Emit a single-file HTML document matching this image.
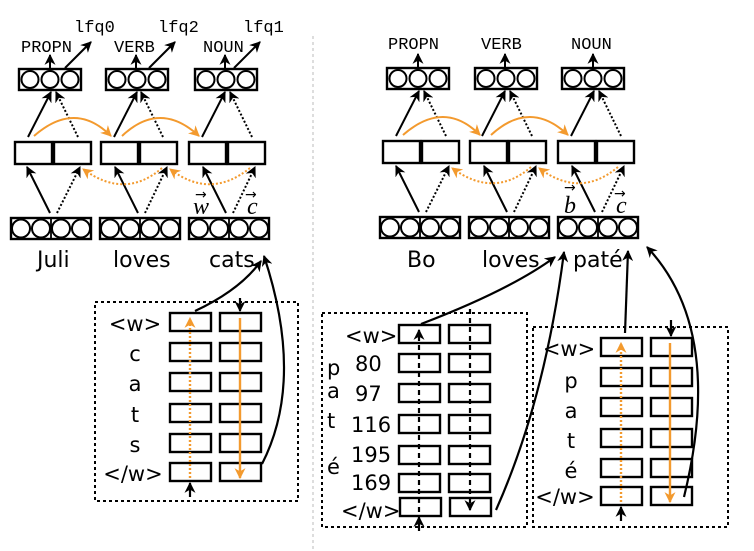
<!DOCTYPE html>
<html><head><meta charset="utf-8"><style>
body{margin:0;background:#fff}
svg{display:block}
</style></head><body>
<svg width="754" height="551" viewBox="0 0 754 551" xmlns="http://www.w3.org/2000/svg">
<defs>
<marker id="a" viewBox="0 0 10 10" refX="9" refY="5" markerUnits="userSpaceOnUse" markerWidth="11" markerHeight="11" orient="auto"><path d="M0,0 L10,5 L0,10 L3,5z" fill="#000"/></marker>
<marker id="o" viewBox="0 0 10 10" refX="9" refY="5" markerUnits="userSpaceOnUse" markerWidth="11" markerHeight="11" orient="auto"><path d="M0,0 L10,5 L0,10 L3,5z" fill="#f39a2e"/></marker>
<g id="top"><rect x="0" y="0" width="62" height="21" fill="#fff" stroke="#000" stroke-width="2.4"/><circle cx="11" cy="10.5" r="8.5" fill="none" stroke="#000" stroke-width="2"/><circle cx="31" cy="10.5" r="8.5" fill="none" stroke="#000" stroke-width="2"/><circle cx="51" cy="10.5" r="8.5" fill="none" stroke="#000" stroke-width="2"/></g>
<g id="bot"><rect x="0" y="0" width="80" height="21" fill="#fff" stroke="#000" stroke-width="2.4"/><line x1="40" y1="0" x2="40" y2="21" stroke="#000" stroke-width="1.8"/><circle cx="10" cy="10.5" r="9" fill="none" stroke="#000" stroke-width="2"/><circle cx="30" cy="10.5" r="9" fill="none" stroke="#000" stroke-width="2"/><circle cx="50" cy="10.5" r="9" fill="none" stroke="#000" stroke-width="2"/><circle cx="70" cy="10.5" r="9" fill="none" stroke="#000" stroke-width="2"/></g>
<g id="mid"><rect x="0" y="0" width="37" height="22" fill="#fff" stroke="#000" stroke-width="2.4"/><rect x="39" y="0" width="37" height="22" fill="#fff" stroke="#000" stroke-width="2.4"/></g>
<g id="cb"><rect x="0" y="0" width="41" height="18" fill="#fff" stroke="#000" stroke-width="2.4"/></g>
</defs>

<line x1="313" y1="36" x2="313" y2="551" stroke="#bbb" stroke-width="1" stroke-dasharray="3,3"/>

<!-- LEFT network -->
<use href="#top" x="19" y="69"/><use href="#top" x="106" y="69"/><use href="#top" x="195" y="69"/>
<use href="#mid" x="15" y="142"/><use href="#mid" x="101" y="142"/><use href="#mid" x="189" y="142"/>
<use href="#bot" x="11" y="218"/><use href="#bot" x="100" y="218"/><use href="#bot" x="189" y="218"/>
<g stroke="#000" stroke-width="2" fill="none">
<line x1="50" y1="69" x2="50" y2="55" marker-end="url(#a)"/><line x1="65" y1="68" x2="91" y2="42" marker-end="url(#a)"/>
<line x1="136" y1="69" x2="136" y2="55" marker-end="url(#a)"/><line x1="149" y1="68" x2="175" y2="42" marker-end="url(#a)"/>
<line x1="225" y1="69" x2="225" y2="55" marker-end="url(#a)"/><line x1="234" y1="68" x2="260" y2="42" marker-end="url(#a)"/>
</g>
<g font-family="Liberation Mono, monospace" font-size="17"><text x="21" y="52">PROPN</text><text x="74" y="32">lfq0</text><text x="114" y="52">VERB</text><text x="158" y="32">lfq2</text><text x="203" y="52">NOUN</text><text x="243" y="32">lfq1</text></g>

<g stroke="#000" stroke-width="2" fill="none">
<line x1="28" y1="137" x2="51" y2="92" marker-end="url(#a)"/><line x1="78" y1="137" x2="56" y2="92" stroke-dasharray="2,2" marker-end="url(#a)"/>
<line x1="114" y1="137" x2="137" y2="92" marker-end="url(#a)"/><line x1="163" y1="137" x2="141" y2="92" stroke-dasharray="2,2" marker-end="url(#a)"/>
<line x1="202" y1="137" x2="225" y2="92" marker-end="url(#a)"/><line x1="252" y1="137" x2="230" y2="92" stroke-dasharray="2,2" marker-end="url(#a)"/>
<line x1="50" y1="213" x2="27" y2="167" marker-end="url(#a)"/><line x1="57" y1="213" x2="80" y2="167" stroke-dasharray="2,2" marker-end="url(#a)"/>
<line x1="138" y1="213" x2="115" y2="167" marker-end="url(#a)"/><line x1="145" y1="213" x2="167" y2="167" stroke-dasharray="2,2" marker-end="url(#a)"/>
<line x1="226" y1="213" x2="203" y2="167" marker-end="url(#a)"/><line x1="233" y1="213" x2="255" y2="167" stroke-dasharray="2,2" marker-end="url(#a)"/>
</g>
<g stroke="#f39a2e" stroke-width="2" fill="none">
<path d="M34,136 Q75,100 111,136" marker-end="url(#o)"/><path d="M122,136 Q160,100 199,136" marker-end="url(#o)"/>
<path d="M162,168 Q125,200 83,169" stroke-dasharray="2,2" marker-end="url(#o)"/><path d="M250,168 Q210,200 170,169" stroke-dasharray="2,2" marker-end="url(#o)"/>
</g>
<text x="193" y="214" font-family="Liberation Serif,serif" font-style="italic" font-size="24">w</text><text x="195" y="199" font-family="DejaVu Sans" font-size="14">→</text>
<text x="247" y="214" font-family="Liberation Serif,serif" font-style="italic" font-size="24">c</text><text x="245" y="199" font-family="DejaVu Sans" font-size="14">→</text>
<g font-family="DejaVu Sans, Liberation Sans, sans-serif" font-size="22"><text x="37" y="267">Juli</text><text x="113" y="267">loves</text><text x="209" y="267">cats</text></g>

<!-- LEFT char box -->
<rect x="95" y="302" width="203" height="199" fill="none" stroke="#000" stroke-width="2" stroke-dasharray="3,3"/>
<use href="#cb" x="170" y="313"/><use href="#cb" x="220" y="313"/>
<use href="#cb" x="170" y="343"/><use href="#cb" x="220" y="343"/>
<use href="#cb" x="170" y="373"/><use href="#cb" x="220" y="373"/>
<use href="#cb" x="170" y="404"/><use href="#cb" x="220" y="404"/>
<use href="#cb" x="170" y="434"/><use href="#cb" x="220" y="434"/>
<use href="#cb" x="170" y="463"/><use href="#cb" x="220" y="463"/>
<g font-family="DejaVu Sans, Liberation Sans, sans-serif" font-size="21" text-anchor="middle"><text x="135" y="331">&lt;w&gt;</text><text x="135" y="361">c</text><text x="135" y="391">a</text><text x="135" y="422">t</text><text x="135" y="452">s</text><text x="133" y="481">&lt;/w&gt;</text></g>
<line x1="190" y1="478" x2="190" y2="318" stroke="#f39a2e" stroke-width="2.4" stroke-dasharray="2,2" marker-end="url(#o)"/>
<line x1="240" y1="318" x2="240" y2="478" stroke="#f39a2e" stroke-width="2.4" marker-end="url(#o)"/>
<g stroke="#000" stroke-width="2.2" fill="none">
<line x1="190" y1="497" x2="190" y2="483" marker-end="url(#a)"/>
<line x1="240" y1="298" x2="240" y2="311" marker-end="url(#a)"/>
<path d="M195,311 Q240,290 261,261" marker-end="url(#a)"/>
<path d="M262,464 Q305,380 264,256" marker-end="url(#a)"/>
</g>

<!-- RIGHT network -->
<use href="#top" x="387" y="68"/><use href="#top" x="475" y="68"/><use href="#top" x="562" y="68"/>
<use href="#mid" x="383" y="141"/><use href="#mid" x="470" y="141"/><use href="#mid" x="558" y="141"/>
<use href="#bot" x="380" y="217"/><use href="#bot" x="469" y="217"/><use href="#bot" x="558" y="217"/>
<g stroke="#000" stroke-width="2" fill="none">
<line x1="418" y1="68" x2="418" y2="54" marker-end="url(#a)"/>
<line x1="505" y1="68" x2="505" y2="54" marker-end="url(#a)"/>
<line x1="593" y1="68" x2="593" y2="54" marker-end="url(#a)"/>
</g>
<g font-family="Liberation Mono, monospace" font-size="17"><text x="388" y="49">PROPN</text><text x="481" y="49">VERB</text><text x="571" y="49">NOUN</text></g>
<g stroke="#000" stroke-width="2" fill="none">
<line x1="396" y1="136" x2="419" y2="91" marker-end="url(#a)"/><line x1="446" y1="136" x2="424" y2="91" stroke-dasharray="2,2" marker-end="url(#a)"/>
<line x1="482" y1="136" x2="505" y2="91" marker-end="url(#a)"/><line x1="532" y1="136" x2="510" y2="91" stroke-dasharray="2,2" marker-end="url(#a)"/>
<line x1="571" y1="136" x2="594" y2="91" marker-end="url(#a)"/><line x1="621" y1="136" x2="599" y2="91" stroke-dasharray="2,2" marker-end="url(#a)"/>
<line x1="419" y1="212" x2="396" y2="166" marker-end="url(#a)"/><line x1="426" y1="212" x2="449" y2="166" stroke-dasharray="2,2" marker-end="url(#a)"/>
<line x1="507" y1="212" x2="484" y2="166" marker-end="url(#a)"/><line x1="514" y1="212" x2="536" y2="166" stroke-dasharray="2,2" marker-end="url(#a)"/>
<line x1="595" y1="212" x2="572" y2="166" marker-end="url(#a)"/><line x1="602" y1="212" x2="624" y2="166" stroke-dasharray="2,2" marker-end="url(#a)"/>
</g>
<g stroke="#f39a2e" stroke-width="2" fill="none">
<path d="M403,135 Q444,99 480,135" marker-end="url(#o)"/><path d="M491,135 Q530,99 568,135" marker-end="url(#o)"/>
<path d="M531,167 Q494,199 452,168" stroke-dasharray="2,2" marker-end="url(#o)"/><path d="M618,167 Q580,199 539,168" stroke-dasharray="2,2" marker-end="url(#o)"/>
</g>
<text x="564" y="213" font-family="Liberation Serif,serif" font-style="italic" font-size="24">b</text><text x="564" y="192" font-family="DejaVu Sans" font-size="14">→</text>
<text x="616" y="213" font-family="Liberation Serif,serif" font-style="italic" font-size="24">c</text><text x="614" y="198" font-family="DejaVu Sans" font-size="14">→</text>
<g font-family="DejaVu Sans, Liberation Sans, sans-serif" font-size="22"><text x="407" y="267">Bo</text><text x="482" y="267">loves</text><text x="573" y="267">paté</text></g>

<!-- RIGHT char box 1 -->
<rect x="322" y="313" width="205" height="214" fill="none" stroke="#000" stroke-width="2" stroke-dasharray="3,3"/>
<use href="#cb" x="399" y="325"/><use href="#cb" x="449" y="325"/>
<use href="#cb" x="399" y="354"/><use href="#cb" x="449" y="354"/>
<use href="#cb" x="399" y="384"/><use href="#cb" x="449" y="384"/>
<use href="#cb" x="399" y="415"/><use href="#cb" x="449" y="415"/>
<use href="#cb" x="399" y="446"/><use href="#cb" x="449" y="446"/>
<use href="#cb" x="399" y="474"/><use href="#cb" x="449" y="474"/>
<use href="#cb" x="400" y="498"/><use href="#cb" x="450" y="498"/>
<g font-family="DejaVu Sans, Liberation Sans, sans-serif" font-size="21"><text x="345" y="343">&lt;w&gt;</text>
<text x="327" y="375">p</text><text x="355" y="371">80</text>
<text x="327" y="398">a</text><text x="355" y="401">97</text>
<text x="327" y="428">t</text><text x="351" y="432">116</text>
<text x="351" y="462">195</text><text x="327" y="474">é</text>
<text x="351" y="490">169</text>
<text x="341" y="518">&lt;/w&gt;</text></g>
<g stroke="#000" stroke-width="2.2" fill="none">
<line x1="419" y1="512" x2="419" y2="330" stroke-dasharray="5,4" marker-end="url(#a)"/>
<line x1="470" y1="309" x2="470" y2="510" stroke-dasharray="5,4" marker-end="url(#a)"/>
<line x1="419" y1="531" x2="419" y2="517" marker-end="url(#a)"/>
<path d="M421,324 Q510,290 555,257" marker-end="url(#a)"/>
<path d="M496,510 Q545,400 564,252" marker-end="url(#a)"/>
</g>

<!-- RIGHT char box 2 -->
<rect x="533" y="327" width="195" height="200" fill="none" stroke="#000" stroke-width="2" stroke-dasharray="3,3"/>
<use href="#cb" x="601" y="338"/><use href="#cb" x="651" y="338"/>
<use href="#cb" x="601" y="368"/><use href="#cb" x="651" y="368"/>
<use href="#cb" x="601" y="398"/><use href="#cb" x="651" y="398"/>
<use href="#cb" x="601" y="429"/><use href="#cb" x="651" y="429"/>
<use href="#cb" x="601" y="459"/><use href="#cb" x="651" y="459"/>
<use href="#cb" x="601" y="487"/><use href="#cb" x="651" y="487"/>
<g font-family="DejaVu Sans, Liberation Sans, sans-serif" font-size="21" text-anchor="middle"><text x="569" y="356">&lt;w&gt;</text><text x="571" y="388">p</text><text x="571" y="418">a</text><text x="571" y="448">t</text><text x="571" y="478">é</text><text x="565" y="504">&lt;/w&gt;</text></g>
<line x1="621" y1="502" x2="621" y2="343" stroke="#f39a2e" stroke-width="2.4" stroke-dasharray="2,2" marker-end="url(#o)"/>
<line x1="670" y1="343" x2="670" y2="502" stroke="#f39a2e" stroke-width="2.4" marker-end="url(#o)"/>
<g stroke="#000" stroke-width="2.2" fill="none">
<line x1="621" y1="521" x2="621" y2="507" marker-end="url(#a)"/>
<line x1="671" y1="320" x2="671" y2="336" marker-end="url(#a)"/>
<line x1="625" y1="333" x2="628" y2="251" marker-end="url(#a)"/>
<path d="M684,497 Q725,330 647,247" marker-end="url(#a)"/>
</g>
</svg>
</body></html>
